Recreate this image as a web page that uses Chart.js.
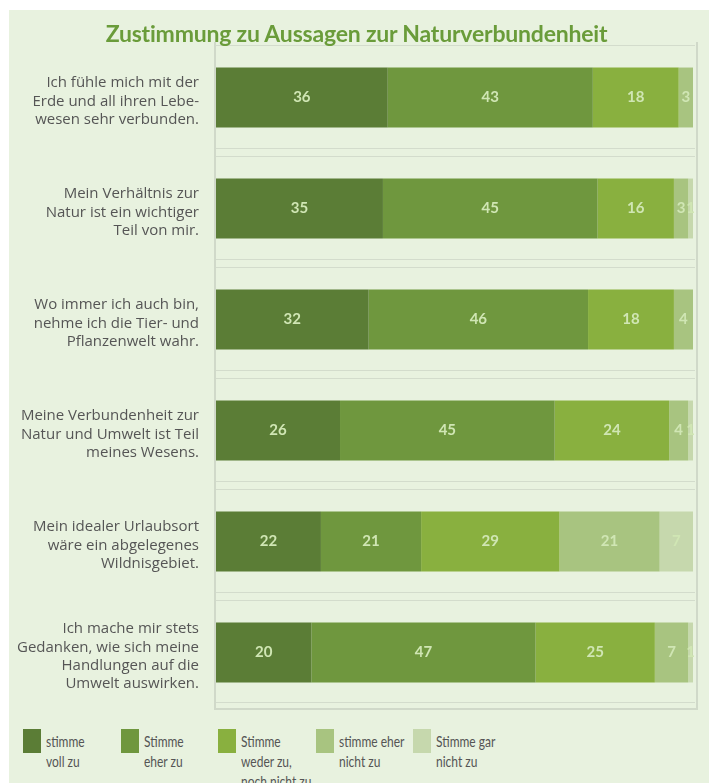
<!DOCTYPE html>
<html><head><meta charset="utf-8">
<script src="https://cdn.jsdelivr.net/npm/chart.js@4/dist/chart.umd.min.js"></script>
<style>
html,body{margin:0;padding:0;background:#fff;width:709px;height:783px;overflow:hidden;font-family:Lato,"Open Sans",sans-serif;}
#panel{position:absolute;left:9px;top:10px;width:700px;height:773px;background:#e8f2df;}
#title{position:absolute;left:0;width:713px;top:18px;text-align:center;font:bold 23px Lato,sans-serif;color:#6a9c3a;line-height:30px;letter-spacing:-0.2px;}
#wrap{position:absolute;left:0;top:0;width:709px;height:712px;}
.lg{position:absolute;top:729px;}
.lg .sw{position:absolute;left:0;top:0;width:18px;height:24px;}
.lg .tx{position:absolute;left:23px;top:2px;font:15px Lato,sans-serif;color:#555;line-height:20px;white-space:nowrap;transform:scaleX(0.8);transform-origin:0 0;}
</style></head>
<body>
<div id="panel"></div>
<div id="wrap"><canvas id="c"></canvas></div>
<div id="title">Zustimmung zu Aussagen zur Naturverbundenheit</div>
<div id="legend"></div>
<script>
const categories = [
  ["Ich fühle mich mit der","Erde und all ihren Lebe-","wesen sehr verbunden."],
  ["Mein Verhältnis zur","Natur ist ein wichtiger","Teil von mir."],
  ["Wo immer ich auch bin,","nehme ich die Tier- und","Pflanzenwelt wahr."],
  ["Meine Verbundenheit zur","Natur und Umwelt ist Teil","meines Wesens."],
  ["Mein idealer Urlaubsort","wäre ein abgelegenes","Wildnisgebiet."],
  ["Ich mache mir stets","Gedanken, wie sich meine","Handlungen auf die","Umwelt auswirken."]
];
const seriesNames = ["stimme voll zu","Stimme eher zu","Stimme weder zu, noch nicht zu","stimme eher nicht zu","Stimme gar nicht zu"];
const legendLines = [["stimme","voll zu"],["Stimme","eher zu"],["Stimme","weder zu,","noch nicht zu"],["stimme eher","nicht zu"],["Stimme gar","nicht zu"]];
const vollZu    = [36,35,32,26,22,20];
const eherZu    = [43,45,46,45,21,47];
const weder     = [18,16,18,24,29,25];
const eherNicht = [3,3,4,4,21,7];
const garNicht  = [0,1,0,1,7,1];
const colors = ["#5b7d36","#6f973e","#89b03f","#a8c480","#c6d8ad"];

const seriesValues = [vollZu,eherZu,weder,eherNicht,garNicht];

// HTML legend
const lgX = [23,121,218,316,413];
const legendEl = document.getElementById('legend');
legendLines.forEach((lines,i)=>{
  const d=document.createElement('div');d.className='lg';d.style.left=lgX[i]+'px';
  d.innerHTML='<div class="sw" style="background:'+colors[i]+'"></div><div class="tx">'+lines.join('<br>')+'</div>';
  legendEl.appendChild(d);
});

const labelPlugin = {
  id:'barLabels',
  afterDatasetsDraw(chart){
    const ctx=chart.ctx;
    ctx.save();
    ctx.font='bold 15px Lato, sans-serif';
    ctx.fillStyle='#d0e6b4';
    ctx.textAlign='center';ctx.textBaseline='middle';
    chart.data.datasets.forEach((ds,di)=>{
      const meta=chart.getDatasetMeta(di);
      meta.data.forEach((el,i)=>{
        const v=ds.data[i];
        if(v>0){const p=el.getCenterPoint();ctx.fillText(String(v),p.x,p.y);}
      });
    });
    ctx.restore();
  }
};
const framePlugin = {
  id:'frame',
  beforeDatasetsDraw(chart){
    const a=chart.chartArea,ctx=chart.ctx;
    const n=chart.data.labels.length, step=(a.bottom-a.top)/n;
    ctx.save();
    ctx.strokeStyle='#d3dccc';ctx.lineWidth=1;
    for(let k=0;k<n;k++){
      const y=a.top+k*step;
      ctx.beginPath();
      if(k>0){ctx.moveTo(a.left,Math.round(y-5)+0.5);ctx.lineTo(a.right+2,Math.round(y-5)+0.5);}
      ctx.moveTo(a.left,Math.round(y+3)+0.5);ctx.lineTo(a.right+2,Math.round(y+3)+0.5);
      ctx.stroke();
    }
    ctx.beginPath();
    ctx.moveTo(a.left,Math.round(a.bottom-6)+0.5);ctx.lineTo(a.right+2,Math.round(a.bottom-6)+0.5);
    ctx.stroke();
    ctx.strokeStyle='#d0d9c9';ctx.lineWidth=2;
    ctx.beginPath();
    ctx.moveTo(a.left-1,a.top);ctx.lineTo(a.left-1,a.bottom+1);
    ctx.lineTo(a.right+4,a.bottom+1);ctx.lineTo(a.right+4,a.top);
    ctx.stroke();
    ctx.restore();
  }
};

new Chart(document.getElementById('c'),{
  type:'bar',
  data:{
    labels:categories,
    datasets:seriesNames.map((n,i)=>({label:n,data:seriesValues[i],backgroundColor:colors[i],borderWidth:0,barPercentage:0.54,categoryPercentage:1}))
  },
  options:{
    indexAxis:'y',
    responsive:true,maintainAspectRatio:false,animation:false,
    devicePixelRatio:1,
    layout:{padding:{top:42,bottom:4,right:16,left:0}},
    plugins:{legend:{display:false},tooltip:{enabled:false},title:{display:false}},
    scales:{
      x:{stacked:true,min:0,max:100,display:false},
      y:{stacked:true,
        afterFit(s){s.width=216;s.paddingTop=0;s.paddingBottom=0;},
        ticks:{color:'#555',font:{family:'Open Sans',size:15,lineHeight:1.23},padding:17,crossAlign:'near',labelOffset:4},
        grid:{display:false,drawTicks:false},
        border:{display:false}
      }
    }
  },
  plugins:[labelPlugin,framePlugin]
});
</script>
</body></html>
